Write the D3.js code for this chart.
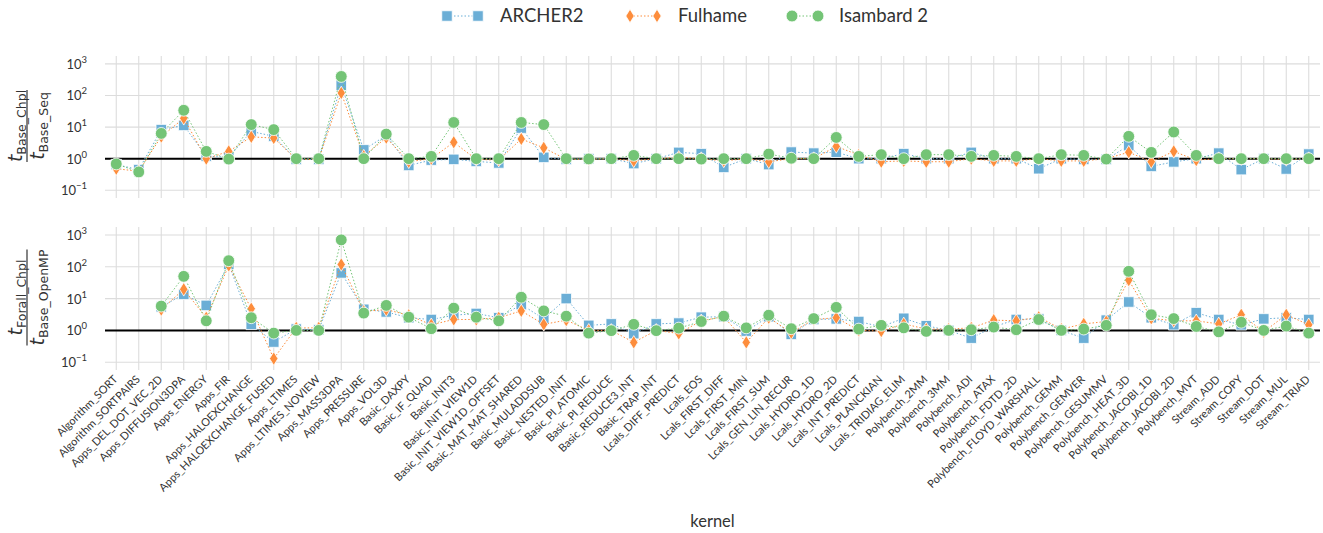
<!DOCTYPE html>
<html lang="en">
<head>
<meta charset="UTF-8">
<title>Chapel vs baseline kernels</title>
<script src="https://d3js.org/d3.v7.min.js"></script>
<style>
    body{ margin:0; background:#fff; }
    svg{ font-family: Lato, "DejaVu Sans", sans-serif; }
    .grid line{ stroke:#dcdcdc; stroke-width:1.1; }
    .ytick{ font-size:13px; fill:#333; }
    .xtick{ font-size:11px; fill:#333; }
</style>
</head>
<body>
<script>
    // kernels on the x axis
    const kernels = ["Algorithm_SORT","Algorithm_SORTPAIRS","Apps_DEL_DOT_VEC_2D","Apps_DIFFUSION3DPA","Apps_ENERGY",
        "Apps_FIR","Apps_HALOEXCHANGE","Apps_HALOEXCHANGE_FUSED","Apps_LTIMES","Apps_LTIMES_NOVIEW","Apps_MASS3DPA",
        "Apps_PRESSURE","Apps_VOL3D","Basic_DAXPY","Basic_IF_QUAD","Basic_INIT3","Basic_INIT_VIEW1D",
        "Basic_INIT_VIEW1D_OFFSET","Basic_MAT_MAT_SHARED","Basic_MULADDSUB","Basic_NESTED_INIT","Basic_PI_ATOMIC",
        "Basic_PI_REDUCE","Basic_REDUCE3_INT","Basic_TRAP_INT","Lcals_DIFF_PREDICT","Lcals_EOS","Lcals_FIRST_DIFF",
        "Lcals_FIRST_MIN","Lcals_FIRST_SUM","Lcals_GEN_LIN_RECUR","Lcals_HYDRO_1D","Lcals_HYDRO_2D","Lcals_INT_PREDICT",
        "Lcals_PLANCKIAN","Lcals_TRIDIAG_ELIM","Polybench_2MM","Polybench_3MM","Polybench_ADI","Polybench_ATAX",
        "Polybench_FDTD_2D","Polybench_FLOYD_WARSHALL","Polybench_GEMM","Polybench_GEMVER","Polybench_GESUMMV",
        "Polybench_HEAT_3D","Polybench_JACOBI_1D","Polybench_JACOBI_2D","Polybench_MVT","Stream_ADD","Stream_COPY",
        "Stream_DOT","Stream_MUL","Stream_TRIAD"]

    // top panel: t_Base_Chpl / t_Base_Seq
    const archerSeq = [0.65,0.45,8.3,11.3,1.2,1.1,7.3,5.1,0.95,0.95,210,1.9,5.5,0.61,0.9,
        0.95,0.82,0.73,9.3,1.1,0.95,1.0,1.0,0.7,1.0,1.58,1.44,0.53,1.0,0.65,1.62,1.5,1.6,1.0,
        1.0,1.44,1.0,1.0,1.58,1.0,1.0,0.48,1.0,0.95,0.95,2.6,0.57,0.79,1.0,1.5,0.45,1.0,0.47,1.4]
    const fulhameSeq = [0.48,0.4,5.0,19,1.0,1.7,4.9,4.5,0.95,0.95,120,1.2,4.6,0.8,1.0,
        3.3,0.95,0.9,4.2,2.2,0.95,0.97,1.0,0.85,1.0,1.1,1.0,0.85,1.0,0.8,1.0,1.0,2.45,1.3,
        0.8,0.85,0.8,0.8,1.0,0.85,0.85,1.0,0.85,0.85,1.0,1.6,0.8,1.7,0.9,1.0,1.0,1.0,0.95,1.0]
    const isambardSeq = [0.68,0.38,6.3,34,1.7,0.97,12,8.3,1.0,1.0,400,1.0,6.0,1.0,1.18,
        14,1.0,1.0,14,12,1.0,0.98,1.0,1.27,1.0,1.0,0.97,1.0,1.0,1.4,1.03,1.0,4.7,1.18,
        1.34,1.0,1.34,1.34,1.18,1.27,1.18,1.0,1.34,1.27,0.97,5.1,1.58,7.0,1.27,1.0,1.0,1.0,1.0,1.0]

    // bottom panel: t_Forall_Chpl / t_Base_OpenMP (no data for the two sort kernels)
    const archerOmp = [null,null,5.5,13.6,6.1,120,1.55,0.43,1.1,1.05,64,4.6,3.8,2.5,2.2,
        3.0,3.4,2.5,6.5,2.3,10,1.44,1.6,0.79,1.6,1.7,2.6,2.7,0.95,2.7,0.75,2.2,2.3,1.9,
        1.3,2.4,1.4,1.0,0.57,1.3,2.2,2.3,1.0,0.57,2.1,7.8,2.5,1.5,3.6,2.2,1.5,2.3,2.5,2.2]
    const fulhameOmp = [null,null,4.5,19.6,2.5,110,4.8,0.13,1.2,1.2,118,4.0,4.5,3.0,1.5,
        2.2,2.2,2.5,4.1,1.55,2.1,1.0,1.0,0.42,1.0,0.8,2.0,2.7,0.42,2.5,0.85,2.2,2.5,1.0,
        0.95,1.6,1.1,1.1,1.2,2.1,2.0,2.6,1.1,1.6,1.9,38,2.4,2.0,2.0,1.6,3.1,0.9,3.1,1.5]
    const isambardOmp = [null,null,5.8,50,2.0,155,2.5,0.82,1.0,1.0,700,3.5,6.1,2.6,1.13,
        5.0,2.6,2.0,11,4.1,2.8,0.82,0.98,1.55,0.98,1.18,1.9,2.8,1.2,3.0,1.13,2.35,5.3,1.1,
        1.44,1.2,0.93,1.0,1.05,1.27,1.05,2.2,1.0,1.1,1.44,72,3.1,2.35,1.33,0.9,1.8,1.0,1.37,0.82]

    const systems = ["ARCHER2","Fulhame","Isambard 2"]
    const colors = ["#6baed6","#fd8d3c","#74c476"]
    const yTicks = [0.1,1,10,100,1000]

    const W = 1323, H = 533
    const plot = {left:105, right:1320}
    const panels = [
        {top:56, height:142, num:"Base_Chpl", den:"Base_Seq", series:[archerSeq,fulhameSeq,isambardSeq]},
        {top:227, height:143, num:"Forall_Chpl", den:"Base_OpenMP", series:[archerOmp,fulhameOmp,isambardOmp]}
    ]

    const svg = d3.select("body").append("svg").attr("width",W).attr("height",H)

    const x = d3.scalePoint().domain(kernels).range([plot.left,plot.right]).padding(0.5)

    const symbols = [
        d3.symbol().type(d3.symbolSquare).size(110),
        null, // thin diamond drawn by hand below
        d3.symbol().type(d3.symbolCircle).size(110)
    ]
    function drawMarker(g, i, cx, cy){
        if(i===1){
            g.append("path")
                .attr("d",`M${cx},${cy-6.8}L${cx+4.2},${cy}L${cx},${cy+6.8}L${cx-4.2},${cy}Z`)
                .attr("fill",colors[i]).attr("stroke","#fff").attr("stroke-width",0.8)
        } else {
            g.append("path").attr("d",symbols[i]())
                .attr("transform",`translate(${cx},${cy})`)
                .attr("fill",colors[i]).attr("stroke","#fff").attr("stroke-width",0.8)
        }
    }

    function superTick(sel, v){
        const e = Math.round(Math.log10(v))
        sel.append("tspan").text("10")
        sel.append("tspan").attr("dy",-6).attr("font-size","9.5px").text(e<0 ? "\u2212"+(-e) : e)
    }

    panels.forEach(p=>{
        const y = d3.scaleLog().domain([Math.pow(10,-1.245),Math.pow(10,3.25)]).range([p.top+p.height,p.top])
        const g = svg.append("g")

        // grid
        const grid = g.append("g").attr("class","grid")
        grid.selectAll(".vx").data(kernels).join("line")
            .attr("x1",d=>x(d)).attr("x2",d=>x(d))
            .attr("y1",p.top).attr("y2",p.top+p.height)
        grid.selectAll(".hy").data(yTicks).join("line")
            .attr("x1",plot.left).attr("x2",plot.right)
            .attr("y1",d=>y(d)).attr("y2",d=>y(d))

        // y tick labels
        g.selectAll(".ytick").data(yTicks).join("text")
            .attr("class","ytick")
            .attr("x",plot.left-18).attr("y",d=>y(d)+5)
            .attr("text-anchor","end")
            .each(function(d){ superTick(d3.select(this),d) })

        // reference line at 1
        g.append("line")
            .attr("x1",plot.left).attr("x2",plot.right)
            .attr("y1",y(1)).attr("y2",y(1))
            .attr("stroke","#000").attr("stroke-width",2)

        // series
        p.series.forEach((vals,i)=>{
            const pts = kernels.map((k,j)=>({k:k,v:vals[j]})).filter(d=>d.v!=null)
            const line = d3.line().x(d=>x(d.k)).y(d=>y(d.v))
            g.append("path").attr("d",line(pts))
                .attr("fill","none").attr("stroke",colors[i])
                .attr("stroke-width",1).attr("stroke-dasharray","1.5,2")
            const mg = g.append("g")
            pts.forEach(d=> drawMarker(mg,i,x(d.k),y(d.v)))
        })

        // y label as a fraction
        const cy = p.top + p.height/2 - 1
        const lab = svg.append("g").attr("transform",`translate(27,${cy}) rotate(-90)`)
            .style("font-family","'DejaVu Sans', sans-serif").attr("fill","#333")
        const numT = lab.append("text").attr("text-anchor","middle").attr("y",-5)
        numT.append("tspan").attr("font-style","italic").attr("font-size","19px").text("t")
        numT.append("tspan").attr("font-size","12.5px").attr("dy",4).text(p.num)
        const denT = lab.append("text").attr("text-anchor","middle").attr("y",17)
        denT.append("tspan").attr("font-style","italic").attr("font-size","19px").text("t")
        denT.append("tspan").attr("font-size","12.5px").attr("dy",4).text(p.den)
        const wMax = Math.max(numT.node().getComputedTextLength(), denT.node().getComputedTextLength())
        lab.append("line").attr("x1",-wMax/2).attr("x2",wMax/2).attr("y1",0).attr("y2",0)
            .attr("stroke","#333").attr("stroke-width",1.2)
    })

    // x tick labels, rotated
    const xBase = panels[1].top + panels[1].height + 10
    svg.selectAll(".xtick").data(kernels).join("text")
        .attr("class","xtick")
        .attr("text-anchor","end")
        .attr("transform",d=>`translate(${x(d)+2},${xBase}) rotate(-45)`)
        .text(d=>d)

    svg.append("text").attr("x",(plot.left+plot.right)/2).attr("y",527)
        .attr("text-anchor","middle").attr("font-size","16.5px").attr("fill","#333").text("kernel")

    // legend
    const legendItems = [{x0:447,x1:478,tx:500},{x0:630,x1:657,tx:678},{x0:792,x1:818,tx:839}]
    const leg = svg.append("g")
    legendItems.forEach((it,i)=>{
        leg.append("line").attr("x1",it.x0).attr("x2",it.x1).attr("y1",16).attr("y2",16)
            .attr("stroke",colors[i]).attr("stroke-width",1).attr("stroke-dasharray","1.5,2")
        drawMarker(leg,i,it.x0,16)
        drawMarker(leg,i,it.x1,16)
        leg.append("text").attr("x",it.tx).attr("y",22).attr("font-size","18.5px")
            .attr("fill","#333").text(systems[i])
    })
</script>
</body>
</html>
